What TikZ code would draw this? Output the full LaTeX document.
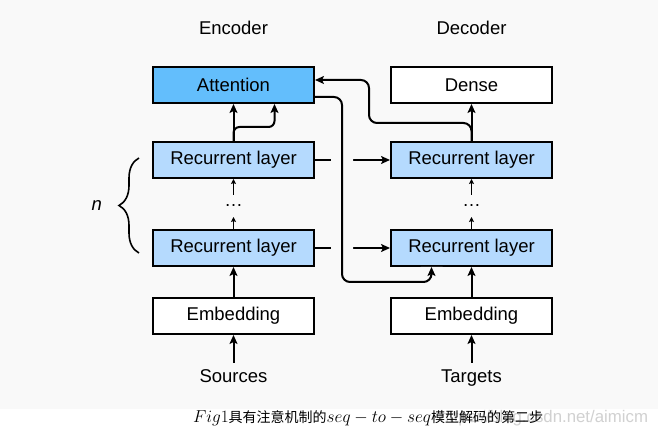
\documentclass[tikz,border=0pt]{standalone}
\usepackage{fontspec}
\setmainfont{Liberation Sans}
\newfontfamily\cjk{Noto Sans CJK SC}
\usetikzlibrary{
  arrows.meta,
  positioning,              % Function "of" (e.g. [below=of x])
  calc,                     % Calculations $...$
  backgrounds,              % Predefined layer named "background"
  decorations.pathreplacing % Brace
}
\definecolor{bgcol}{RGB}{249,249,249}
\definecolor{attcol}{RGB}{99,190,252}
\definecolor{rnncol}{RGB}{181,218,254}
\def\mybigfont{\fontsize{18.5}{22}\selectfont}
\def\myboxdist{37pt}
\def\mylbldist{31pt}
\tikzset{
  >={Stealth[length=9pt,width=8pt,inset=2pt]},
  my box/.style={
    draw,
    rectangle,
    fill=white,
    minimum width=161pt,
    minimum height=36pt,
    inner sep=0pt,
    font=\mybigfont
  },
  my att/.style={
    my box,
    fill=attcol
  },
  my rnn/.style={
    my box,
    fill=rnncol
  },
  my label/.style={
    inner sep=0pt,
    outer sep=0pt,
    font=\mybigfont
  },
  my dots/.style={
    my label,
    minimum height=22pt
  },
  small arrow/.style={
    line width=1.5pt,
    -{Stealth[length=5pt,width=5pt,inset=1pt]}
  },
  % Gap where a line crosses another one
  jump/.style={
    preaction={draw=bgcol,line width=22pt,-}
  },
  my brace/.style={
    decorate,
    decoration={brace,amplitude=20pt},
    line width=1.6pt
  }
}

\begin{document}
\begin{tikzpicture}[x=1pt,y=1pt,line width=2pt]
\useasboundingbox (0,0) rectangle (658,435);
\begin{scope}[on background layer]
  \fill[white] (0,0) rectangle (658,435);
  \fill[bgcol] (0,26) rectangle (658,435);
\end{scope}
% Encoder
\node[my att]   (encatt)                         at (233.5,350) {Attention};
\node[my rnn]   (encrnn2)  [below=\myboxdist of encatt]  {Recurrent layer};
\node[my dots]  (encdots)  [below=16pt of encrnn2]        {\dots};
\node[my rnn]   (encrnn1)  [below=12pt of encdots]        {Recurrent layer};
\node[my box]   (encemb)   [below=30pt of encrnn1]        {Embedding};
\node[my label] (src)      [below=35pt of encemb]         {Sources};
\node[my label] (enc)      [above=\mylbldist of encatt]   {Encoder};
% Decoder
\node[my box]   (decdense)                       at (471.5,350) {Dense};
\node[my rnn]   (decrnn2)  [below=\myboxdist of decdense] {Recurrent layer};
\node[my dots]  (decdots)  [below=16pt of decrnn2]        {\dots};
\node[my rnn]   (decrnn1)  [below=12pt of decdots]        {Recurrent layer};
\node[my box]   (decemb)   [below=30pt of decrnn1]        {Embedding};
\node[my label] (tgt)      [below=35pt of decemb]         {Targets};
\node[my label] (dec)      [above=\mylbldist of decdense] {Decoder};
% Connectors
\path[->] (src)     edge[shorten <=7pt] (encemb)
          (encemb)  edge (encrnn1)
          (encrnn2) edge (encatt)
          (tgt)     edge[shorten <=7pt] (decemb)
          (decemb)  edge (decrnn1)
          (decrnn2) edge (decdense)
          (encrnn2) edge (decrnn2)
          (encrnn1) edge (decrnn1);
\path[small arrow] (encrnn1) edge (encdots)
                   (encdots) edge (encrnn2)
                   (decrnn1) edge (decdots)
                   (decdots) edge (decrnn2);
\draw[->,rounded corners=6pt] (encrnn2.north) -- ++(0,14)
  -| ($(encatt.south)+(41,0)$);
\draw[->,rounded corners=8pt] (decrnn2.north) -- ++(0,18)
  -| ($(encatt.east)+(54,5)$) -- ($(encatt.east)+(0,5)$);
\draw[->,rounded corners=8pt,jump] ($(encatt.east)+(0,-12)$)
  -| ($(decrnn1.south west)+(-48,-15)$)
  -| ($(decrnn1.south)+(-40,0)$);
% Layer count
\draw[my brace] ($(encrnn1.west)+(-13,-5)$) --
  node[my label,left=37pt] {\textit{n}} ($(encrnn2.west)+(-13,2)$);
% Caption
\node[my label,anchor=east,text=black!18,font=\fontsize{16.8}{20}\selectfont]
  (mark) at (648,17) {https://blog.csdn.net/aimicm};
\node[my label,anchor=west,font=\fontsize{14}{16}\selectfont] (cap) at (193,17)
  {{\fontsize{17}{20}\selectfont$Fig1$}\cjk 具有注意机制的{\fontsize{17}{20}\selectfont$seq-to-seq$}模型解码的第二步};
\end{tikzpicture}
\end{document}
